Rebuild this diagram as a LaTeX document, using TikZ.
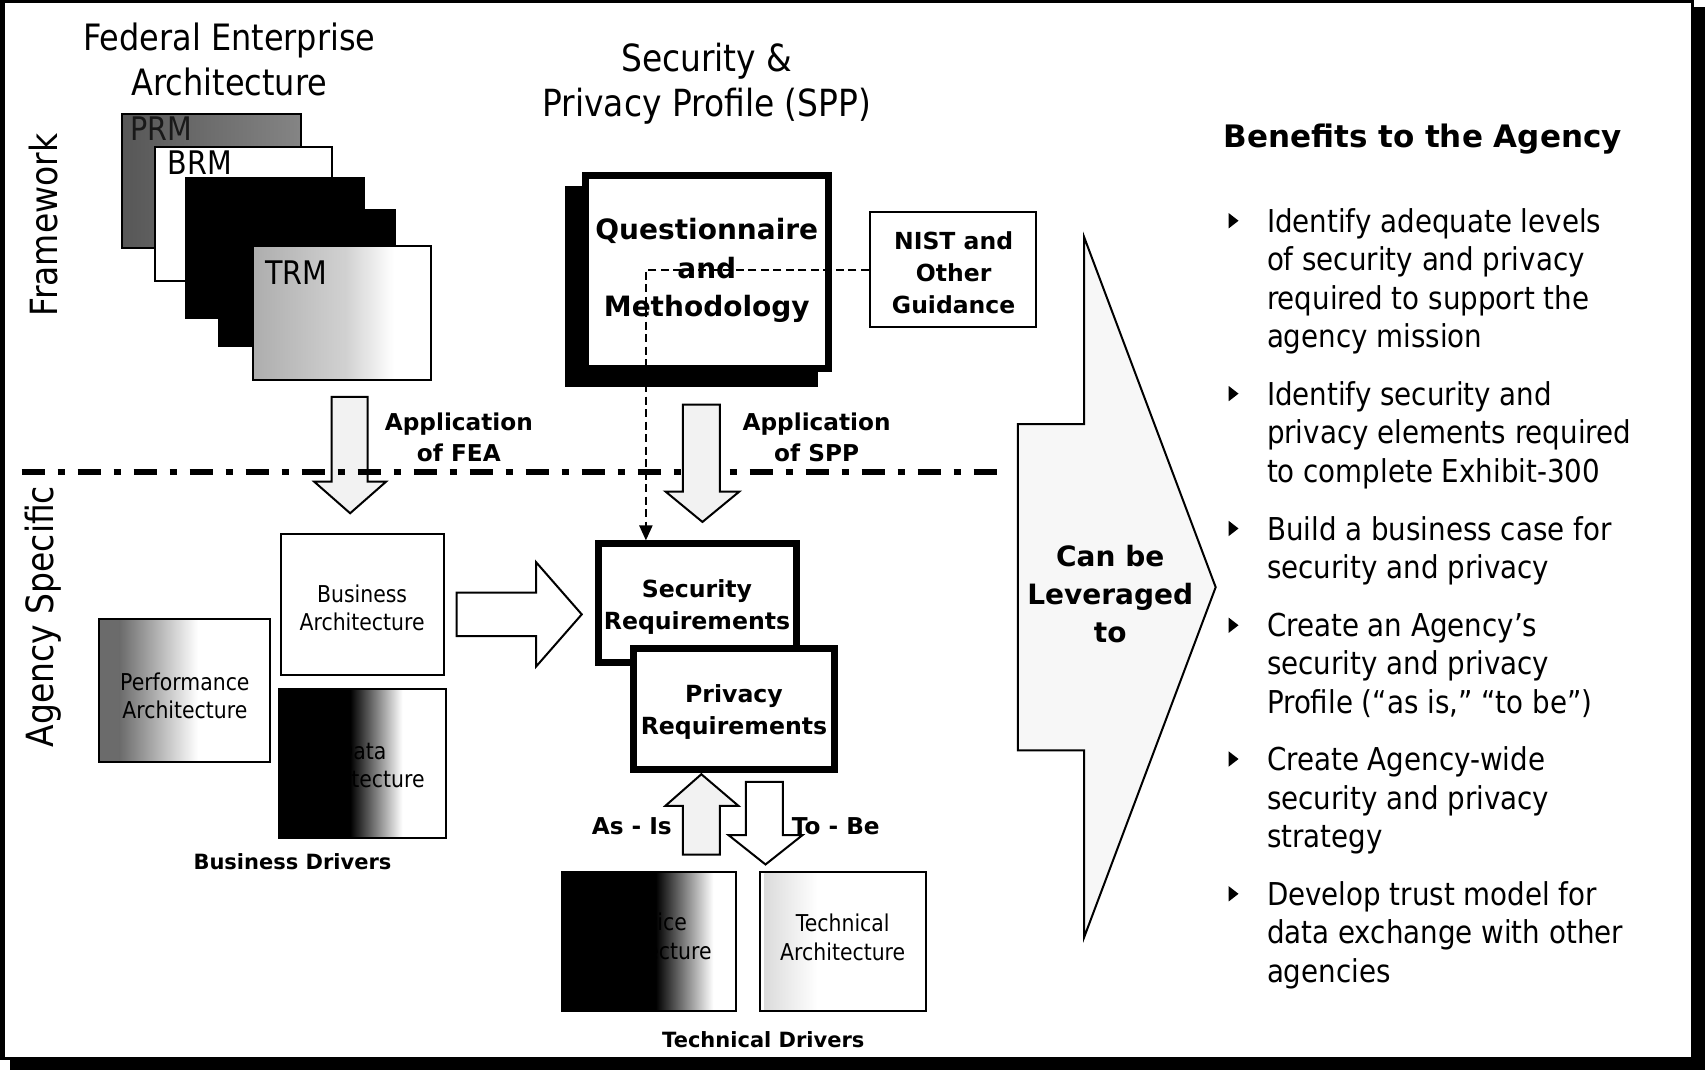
\documentclass[tikz,border=0pt]{standalone}
\usepackage{fontspec}
\setmainfont{DejaVu Sans}
\newfontfamily\tah{DejaVu Sans}[FakeStretch=0.88]
\usetikzlibrary{arrows.meta,calc}
\newcommand\myfs[2]{\fontsize{#1}{#2}\selectfont}
\begin{document}
\begin{tikzpicture}[x=1.0874pt,y=-1.0874pt,
  thin box/.style={draw=black,line width=2pt},
  thick box/.style={draw=black,line width=7pt,fill=white,inner sep=0pt},
  block/.style={draw=black,line width=2pt,line join=miter,fill=#1},
  block/.default=white,
  regtext/.style={font=\tah\myfs{23.2}{28.3},align=center,inner sep=0pt},
  boldlbl/.style={font=\bfseries\myfs{23.2}{31.5},align=center,inner sep=0pt},
  reqtext/.style={font=\bfseries\myfs{23.6}{32},align=center,inner sep=0pt},
  drivers/.style={font=\bfseries\myfs{21}{25},inner sep=0pt},
  bigtitle/.style={font=\tah\myfs{36.3}{45},align=center,inner sep=0pt},
  bullettext/.style={font=\tah\myfs{31.5}{38.4},align=left,anchor=north west,inner sep=0pt},
  sidelabel/.style={font=\tah\myfs{37.5}{40},rotate=90,inner sep=0pt},
  stacklbl/.style={font=\tah\myfs{32.5}{32},anchor=west,inner sep=0pt},
  dashconn/.style={line width=2.2pt,dash pattern=on 8pt off 4.5pt,-{Triangle[length=15pt,width=13pt]}},
  separator/.style={line width=6pt,dash pattern=on 23pt off 13pt on 7pt off 13pt}
]
\useasboundingbox (0,0) rectangle (1568,984);
% frame with shadow
\fill[black] (9,6) rectangle (1568,984);
\draw[line width=3pt,fill=white] (1.4,1.4) rectangle (1556.6,973.6);
\fill[black] (0,0) rectangle (5,975);

% ---------- Federal Enterprise Architecture stack ----------
\node[bigtitle] (featitle) at (211,55) {Federal Enterprise\\Architecture};
\shadedraw[thin box,left color=black!66,right color=black!48] (112,105) rectangle (277,228);
\node[stacklbl,text=black!90] (prm) at (120,118) {PRM};
\draw[thin box,fill=white] (143,135) rectangle (305,258);
\node[stacklbl] (brm) at (154,150) {BRM};
\draw[thin box,fill=black] (171,164) rectangle (335,292);
\draw[thin box,fill=black] (201,193) rectangle (363,318);
\fill[white] (233,226) rectangle (396,349);
\shade[left color=black!32,right color=black!18] (233,226) rectangle (318,349);
\shade[left color=black!18,right color=white] (318,226) rectangle (362,349);
\draw[thin box] (233,226) rectangle (396,349);
\node[stacklbl] (trm) at (244,251) {TRM};

% ---------- SPP ----------
\node[bigtitle,font=\tah\myfs{37.4}{45.5}] (spptitle) at (650,77) {Security \&\\Privacy Profile (SPP)};
\fill[black] (520,171) rectangle (752,356);
\node[thick box,minimum width=223.6*1.0874pt,minimum height=177.6*1.0874pt] (qm) at (650,250) {};
\node[font=\bfseries\myfs{28}{38.6},align=center,inner sep=0pt] (qmtext) at (650,249)
      {Questionnaire\\and\\Methodology};
\node[thin box,fill=white,minimum width=153*1.0874pt,minimum height=106*1.0874pt] (nist) at (876.5,248) {};
\node[font=\bfseries\myfs{23.5}{32},align=center,inner sep=0pt] (nisttext) at (877,250.5)
      {NIST and\\Other\\Guidance};

% ---------- left labels ----------
\node[sidelabel] (framework) at (40,207) {Framework};
\node[sidelabel] (agency) at (40,567) {Agency Specific};

% ---------- application arrows and separator ----------
\draw[block=black!5] (305,365) -- (338,365) -- (338,443) -- (355,443) -- (322,472) -- (289,443) -- (305,443) -- cycle;
\node[boldlbl] (appfea) at (422,402) {Application\\of FEA};
\draw[separator] (20,434) -- (920,434);
\draw[block=black!5] (628,372) -- (662,372) -- (662,452) -- (680,452) -- (646,480) -- (612,452) -- (628,452) -- cycle;
\node[boldlbl] (appspp) at (751,402) {Application\\of SPP};

% ---------- business drivers ----------
\node[thin box,fill=white,minimum width=150*1.0874pt,minimum height=130*1.0874pt] (busarch) at (333,556) {};
\node[regtext] (bustext) at (333,559) {Business\\Architecture};
\fill[black!58] (91,569) rectangle (110,701);
\shade[left color=black!58,right color=white] (110,569) rectangle (182,701);
\draw[thin box] (91,569) rectangle (248,701);
\node[regtext] (perfarch) at (170,640) {Performance\\Architecture};
\fill[white] (257,634) rectangle (410,771);
\fill[black] (257,634) rectangle (322,771);
\shade[left color=black,right color=white] (322,634) rectangle (370,771);
\draw[thin box] (257,634) rectangle (410,771);
\node[regtext] (dataarch) at (333,704) {Data\\Architecture};
\node[drivers] (busdrv) at (269,792) {Business Drivers};

% ---------- requirements ----------
\draw[block] (420,545) -- (493,545) -- (493,517) -- (535,565) -- (493,613) -- (493,585) -- (420,585) -- cycle;
\node[thick box,minimum width=182.6*1.0874pt,minimum height=108.6*1.0874pt] (secreq) at (641.5,554.5) {};
\node[reqtext] (sectext) at (641,558.5) {Security\\Requirements};
\node[thick box,minimum width=185.6*1.0874pt,minimum height=111.6*1.0874pt] (privreq) at (675,652) {};
\node[reqtext] (privtext) at (675,655) {Privacy\\Requirements};
\coordinate (dj) at (594,248);
\draw[dashconn] (nist.west) -- (dj) -- (dj |- secreq.north);

% ---------- as-is / to-be ----------
\draw[block=black!5] (628,786) -- (628,741) -- (612,741) -- (645,712) -- (679,741) -- (662,741) -- (662,786) -- cycle;
\draw[block] (686,719) -- (720,719) -- (720,768) -- (738,768) -- (704,795) -- (670,768) -- (686,768) -- cycle;
\node[boldlbl,anchor=east] (asis) at (618,760) {As - Is};
\node[boldlbl,anchor=west] (tobe) at (728,760) {To - Be};

% ---------- technical drivers ----------
\fill[white] (517,802) rectangle (677,930);
\fill[black] (517,802) rectangle (603,930);
\shade[left color=black,right color=white] (603,802) rectangle (656,930);
\draw[thin box] (517,802) rectangle (677,930);
\node[regtext] (servarch) at (597,861) {Service\\Architecture};
\fill[white] (699,802) rectangle (852,930);
\shade[left color=black!14,right color=white] (703,803) rectangle (752,929);
\draw[thin box] (699,802) rectangle (852,930);
\node[regtext] (techarch) at (775,862) {Technical\\Architecture};
\node[drivers] (techdrv) at (702,956) {Technical Drivers};

% ---------- big arrow ----------
\draw[block=black!3] (936,390) -- (997,390) -- (997,218) -- (1118,540) -- (997,862) -- (997,690) -- (936,690) -- cycle;
\node[font=\bfseries\myfs{28}{38},align=center,inner sep=0pt] (lev) at (1021,546) {Can be\\Leveraged\\to};

% ---------- benefits ----------
\node[font=\bfseries\myfs{31}{36},anchor=west,inner sep=0pt] (bentitle) at (1125,128) {Benefits to the Agency};
\foreach \yy/\nm/\txt in {
  203/b1/{Identify adequate levels\\of security and privacy\\required to support the\\agency mission},
  362/b2/{Identify security and\\privacy elements required\\to complete Exhibit-300},
  486/b3/{Build a business case for\\security and privacy},
  575/b4/{Create an Agency’s\\security and privacy\\Profile (“as is,” “to be”)},
  698/b5/{Create Agency-wide\\security and privacy\\strategy},
  822/b6/{Develop trust model for\\data exchange with other\\agencies}}{
  \fill[black] (1130,\yy-7) -- (1139,\yy) -- (1130,\yy+7) -- cycle;
  \node[bullettext] (\nm) at (1165,\yy-11.5) {\txt};
}
\end{tikzpicture}
\end{document}
